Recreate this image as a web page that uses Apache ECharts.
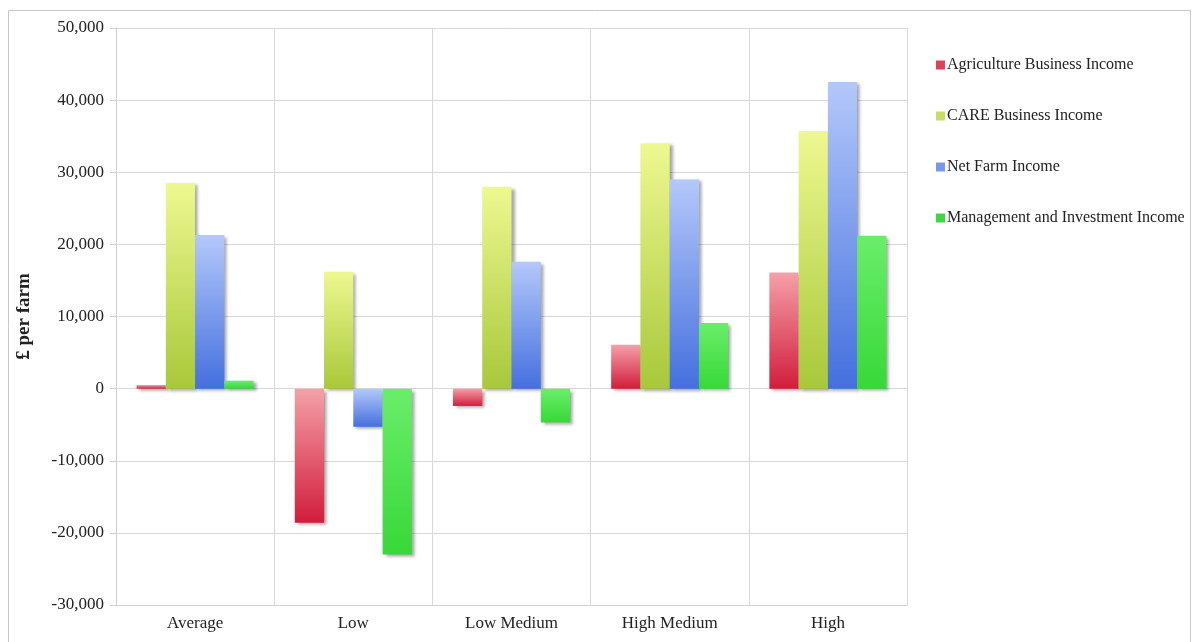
<!DOCTYPE html>
<html><head><meta charset="utf-8">
<script src="https://cdn.jsdelivr.net/npm/echarts@6/dist/echarts.min.js"></script>
<style>html,body{margin:0;padding:0;background:#fff}#c{width:1194px;height:642px}</style>
</head><body><div id="c"></div>
<script>
const categories = ['Average', 'Low', 'Low Medium', 'High Medium', 'High'];
const agricultureBusinessIncome = [500, -18600, -2400, 6100, 16100];
const careBusinessIncome = [28500, 16200, 28000, 34000, 35700];
const netFarmIncome = [21300, -5300, 17600, 29000, 42500];
const managementInvestmentIncome = [1100, -23000, -4700, 9100, 21200];
const seriesNames = ['Agriculture Business Income', 'CARE Business Income', 'Net Farm Income', 'Management and Investment Income'];

const font = 'Liberation Serif';
function grad(top, bottom) {
  return new echarts.graphic.LinearGradient(0, 0, 0, 1, [{offset: 0, color: top}, {offset: 1, color: bottom}]);
}
const styles = [
  {top: '#f5a0a8', bottom: '#d21d3c', legend: '#e0405a'},
  {top: '#eef890', bottom: '#a8c83a', legend: '#c8dc6a'},
  {top: '#b4c8fa', bottom: '#4470de', legend: '#7896ea'},
  {top: '#6aee6a', bottom: '#38d838', legend: '#40d840'}
];
const dataSets = [agricultureBusinessIncome, careBusinessIncome, netFarmIncome, managementInvestmentIncome];

const chart = echarts.init(document.getElementById('c'));
chart.setOption({
  backgroundColor: '#fff',
  animation: false,
  graphic: [{type: 'rect', shape: {x: 8.5, y: 10.5, width: 1182, height: 640}, style: {fill: 'none', stroke: '#c8c8c8', lineWidth: 1}}],
  legend: {
    orient: 'vertical', left: 931, top: 52, itemGap: 35, itemWidth: 9, itemHeight: 9,
    icon: 'rect',
    textStyle: {fontFamily: font, fontSize: 16, color: '#222', padding: [0, 0, 0, -3]},
    data: seriesNames.map((n, i) => ({name: n, itemStyle: {color: styles[i].legend}}))
  },
  grid: {left: 116, right: 287, top: 28, bottom: 37, containLabel: false},
  xAxis: {
    type: 'category', data: categories,
    axisLine: {show: true, onZero: false, lineStyle: {color: '#cfcfcf'}},
    axisTick: {show: false},
    splitLine: {show: true, lineStyle: {color: '#d8d8d8'}},
    axisLabel: {fontFamily: font, fontSize: 17, color: '#222', margin: 10}
  },
  yAxis: {
    type: 'value', min: -30000, max: 50000, interval: 10000,
    name: '£ per farm', nameLocation: 'middle', nameGap: 82, nameRotate: 90,
    nameTextStyle: {fontFamily: font, fontSize: 19, fontWeight: 'bold', color: '#222'},
    axisLine: {show: true, lineStyle: {color: '#cfcfcf'}},
    axisTick: {show: true, length: 6, lineStyle: {color: '#cfcfcf'}},
    splitLine: {lineStyle: {color: '#d8d8d8'}},
    axisLabel: {fontFamily: font, fontSize: 17, color: '#222', margin: 12,
      formatter: v => v.toLocaleString('en-US')}
  },
  series: dataSets.map((d, i) => ({
    name: seriesNames[i], type: 'bar', data: d,
    barGap: '0%', barCategoryGap: '26%',
    itemStyle: {color: grad(styles[i].top, styles[i].bottom),
      shadowColor: 'rgba(0,0,0,0.35)', shadowBlur: 3, shadowOffsetX: 3, shadowOffsetY: 2}
  }))
});
</script></body></html>
